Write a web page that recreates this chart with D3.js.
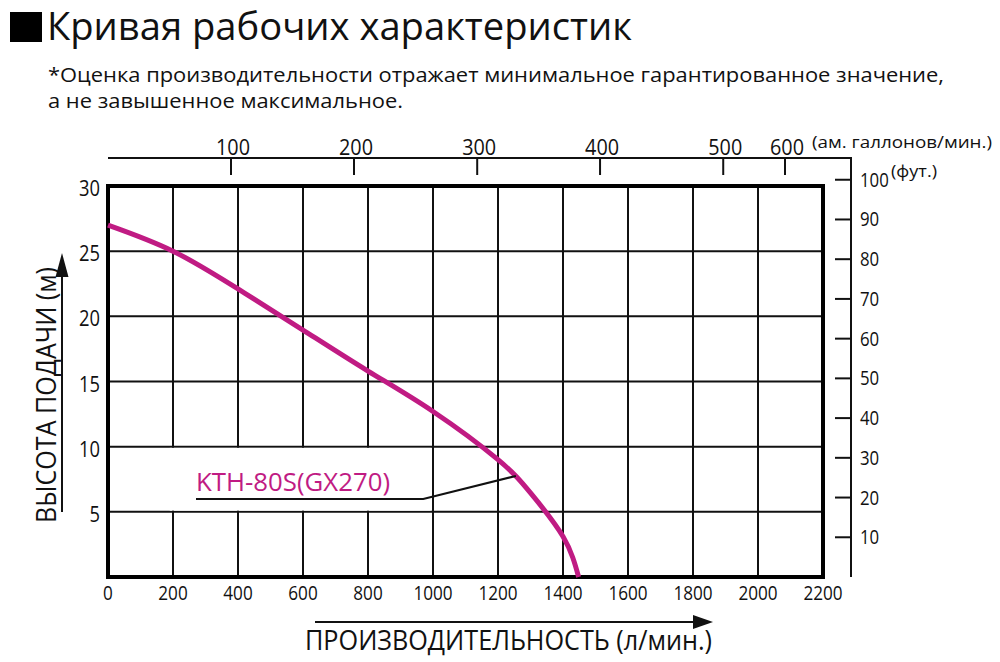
<!DOCTYPE html>
<html><head><meta charset="utf-8">
<script src="https://cdn.jsdelivr.net/npm/d3@7"></script>
<style>
html,body{margin:0;padding:0;background:#fff;}
svg text{font-family:"Open Sans","Noto Sans",sans-serif;fill:#111;}
</style></head>
<body><svg id="c" width="1000" height="662"></svg>
<script>
// ---- data ----
const flowLpm   = [0, 200, 400, 600, 800, 1000, 1200, 1300, 1400, 1448];
const headM     = [27, 25, 22.1, 18.95, 15.8, 12.7, 9.0, 6.45, 3.1, 0];
const xTicks    = [0, 200, 400, 600, 800, 1000, 1200, 1400, 1600, 1800, 2000, 2200];
const yTicks    = [5, 10, 15, 20, 25, 30];
const galTicks  = [100, 200, 300, 400, 500, 600];
const galTickL  = [378.5, 757, 1136, 1514, 1893, 2083];
const ftTicks   = [10, 20, 30, 40, 50, 60, 70, 80, 90, 100];
const seriesName = "KTH-80S(GX270)";
const titleText = "Кривая рабочих характеристик";
const noteLines = ["*Оценка производительности отражает минимальное гарантированное значение,",
                   "а не завышенное максимальное."];
const xTitle = "ПРОИЗВОДИТЕЛЬНОСТЬ (л/мин.)";
const yTitle = "ВЫСОТА ПОДАЧИ (м)";
const galUnit = "(ам. галлонов/мин.)";
const ftUnit = "(фут.)";

// ---- layout ----
const svg = d3.select("#c");
const X0 = 108, X1 = 823, Y0 = 577, Y1 = 186;
const x = d3.scaleLinear().domain([0, 2200]).range([X0, X1]);
const y = d3.scaleLinear().domain([0, 30]).range([Y0, Y1]);
const magenta = "#c01b83";

// title
svg.append("rect").attr("x", 10).attr("y", 12).attr("width", 32).attr("height", 30).attr("fill", "#000");
svg.append("text").attr("x", 47).attr("y", 40).attr("font-size", 38)
  .attr("textLength", 585).attr("lengthAdjust", "spacingAndGlyphs").text(titleText);
svg.append("text").attr("x", 48).attr("y", 82).attr("font-size", 20)
  .attr("textLength", 896).attr("lengthAdjust", "spacingAndGlyphs").text(noteLines[0]);
svg.append("text").attr("x", 48).attr("y", 108).attr("font-size", 20)
  .attr("textLength", 355).attr("lengthAdjust", "spacingAndGlyphs").text(noteLines[1]);

// grid
const g = svg.append("g");
g.selectAll("line.vg").data(xTicks.filter(d => d > 0 && d < 2200)).enter().append("line")
  .attr("x1", d => x(d)).attr("x2", d => x(d)).attr("y1", Y1).attr("y2", Y0)
  .attr("stroke", "#111").attr("stroke-width", 2);
g.selectAll("line.hg").data(yTicks.filter(d => d < 30)).enter().append("line")
  .attr("x1", X0).attr("x2", X1).attr("y1", d => y(d)).attr("y2", d => y(d))
  .attr("stroke", "#111").attr("stroke-width", 2);

// white label box masking grid
svg.append("rect").attr("x", x(190)).attr("y", y(10) + 1.2).attr("width", x(993) - x(190))
  .attr("height", y(5) - y(10) - 2.4).attr("fill", "#fff");

// frame
svg.append("rect").attr("x", X0).attr("y", Y1).attr("width", X1 - X0).attr("height", Y0 - Y1)
  .attr("fill", "none").attr("stroke", "#000").attr("stroke-width", 4);

// left tick labels
svg.selectAll("text.yl").data(yTicks).enter().append("text")
  .attr("x", X0 - 8).attr("y", d => y(d) + 10).attr("text-anchor", "end").attr("font-size", 21)
  .attr("textLength", d => String(d).length * 10.5).attr("lengthAdjust", "spacingAndGlyphs")
  .text(d => d);
// bottom tick labels
svg.selectAll("text.xl").data(xTicks).enter().append("text")
  .attr("x", d => x(d)).attr("y", 600).attr("text-anchor", "middle").attr("font-size", 20)
  .attr("textLength", d => String(d).length * 9.8).attr("lengthAdjust", "spacingAndGlyphs")
  .text(d => d);

// top gallon axis
const TY = 158;
svg.append("line").attr("x1", X0).attr("x2", 851).attr("y1", TY).attr("y2", TY)
  .attr("stroke", "#111").attr("stroke-width", 2);
svg.selectAll("line.gt").data(galTickL).enter().append("line")
  .attr("x1", d => x(d)).attr("x2", d => x(d)).attr("y1", TY).attr("y2", TY + 17)
  .attr("stroke", "#111").attr("stroke-width", 2);
svg.selectAll("text.gl").data(galTicks).enter().append("text")
  .attr("x", (d, i) => x(galTickL[i]) + 2).attr("y", TY - 3).attr("text-anchor", "middle")
  .attr("font-size", 21).attr("textLength", 34).attr("lengthAdjust", "spacingAndGlyphs").text(d => d);
svg.append("text").attr("x", 812).attr("y", 148).attr("font-size", 16)
  .attr("textLength", 180).attr("lengthAdjust", "spacingAndGlyphs").text(galUnit);

// right feet axis
const RX = 851;
const yft = d => y(d * 0.3048);
svg.append("line").attr("x1", RX).attr("x2", RX).attr("y1", TY - 1).attr("y2", Y0)
  .attr("stroke", "#111").attr("stroke-width", 2);
svg.selectAll("line.ft").data(ftTicks).enter().append("line")
  .attr("x1", RX - 16).attr("x2", RX).attr("y1", d => yft(d)).attr("y2", d => yft(d))
  .attr("stroke", "#111").attr("stroke-width", 2);
svg.selectAll("text.fl").data(ftTicks).enter().append("text")
  .attr("x", 860).attr("y", d => yft(d) + 7).attr("font-size", 20)
  .attr("textLength", d => String(d).length * 9.6).attr("lengthAdjust", "spacingAndGlyphs").text(d => d);
svg.append("text").attr("x", 891).attr("y", 177).attr("font-size", 16)
  .attr("textLength", 46).attr("lengthAdjust", "spacingAndGlyphs").text(ftUnit);

// curve
const pts = flowLpm.map((f, i) => [f, headM[i]]);
svg.append("path").datum(pts)
  .attr("d", d3.line().x(d => x(d[0])).y(d => y(d[1])).curve(d3.curveNatural))
  .attr("fill", "none").attr("stroke", magenta).attr("stroke-width", 5).attr("stroke-linecap", "butt");

// series label and leader
svg.append("text").attr("x", 196).attr("y", 491).attr("font-size", 25).style("fill", magenta)
  .attr("textLength", 194).attr("lengthAdjust", "spacingAndGlyphs").text(seriesName);
svg.append("path")
  .attr("d", `M196,499 L${x(970)},499 L${x(1255)},476`)
  .attr("fill", "none").attr("stroke", "#111").attr("stroke-width", 2.2);

// axis titles with arrows
svg.append("line").attr("x1", 315).attr("x2", 698).attr("y1", 622).attr("y2", 622)
  .attr("stroke", "#111").attr("stroke-width", 2);
svg.append("path").attr("d", "M713,622 L693,615 L693,629 Z").attr("fill", "#111");
svg.append("text").attr("x", 305).attr("y", 650).attr("font-size", 28)
  .attr("textLength", 407).attr("lengthAdjust", "spacingAndGlyphs").text(xTitle);

svg.append("line").attr("x1", 62).attr("x2", 62).attr("y1", 512).attr("y2", 272)
  .attr("stroke", "#111").attr("stroke-width", 2);
svg.append("path").attr("d", "M62,253 L55.5,277 L68.5,277 Z").attr("fill", "#111");
svg.append("text").attr("transform", "translate(56,523) rotate(-90)").attr("font-size", 28)
  .attr("textLength", 256).attr("lengthAdjust", "spacingAndGlyphs").text(yTitle);
</script></body></html>
